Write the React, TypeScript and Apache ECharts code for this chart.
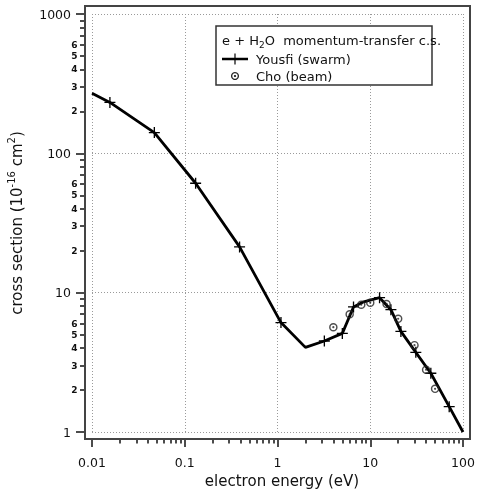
import React, { useEffect, useRef } from "react";
import * as echarts from "echarts";

// Yousfi (swarm) momentum-transfer cross section, energy in eV, cross section in 1e-16 cm^2
const yousfiEnergy = [0.01, 0.0156, 0.047, 0.131, 0.39, 1.09, 2.0, 3.2, 5.0, 6.6, 8.5, 12.6, 16.7, 21.4, 31, 45, 71, 100];
const yousfiXS = [270, 232, 141, 61, 21.3, 6.1, 4.05, 4.5, 5.1, 7.9, 8.6, 9.2, 7.55, 5.27, 3.73, 2.64, 1.52, 1.0];
const yousfiMarked = [false, true, true, true, true, true, false, true, true, true, false, true, true, true, true, true, true, false];

// Cho (beam)
const choEnergy = [4, 6, 8, 10, 15, 20, 30, 40, 50];
const choXS = [5.65, 7.0, 8.2, 8.45, 8.3, 6.5, 4.2, 2.8, 2.04];

// axis ticks
const xDecades = [0.01, 0.1, 1, 10];
const yDecades = [1, 10, 100];
const minorDigits = [2, 3, 4, 5, 6, 7, 8, 9];
const yMinorLabelDigits = [2, 3, 4, 5, 6];

const FONT = "'DejaVu Sans', sans-serif";
const PLUS = "path://M-5,-0.6L5,-0.6L5,0.6L-5,0.6Z M-0.6,-5L0.6,-5L0.6,5L-0.6,5Z";
const CHO =
  "path://M0,-5A5,5,0,1,1,0,5A5,5,0,1,1,0,-5Z M0,-3.3A3.3,3.3,0,1,0,0,3.3A3.3,3.3,0,1,0,0,-3.3Z M0,-1.3A1.3,1.3,0,1,1,0,1.3A1.3,1.3,0,1,1,0,-1.3Z";

const fmt = (v: number) => String(parseFloat(Number(v).toPrecision(4)));

export default function App() {
  const ref = useRef<HTMLDivElement>(null);

  useEffect(() => {
    document.body.style.margin = "0";
    const chart = echarts.init(ref.current!, null, { renderer: "svg" });

    const xMinorTicks: number[] = [];
    xDecades.forEach((d) => minorDigits.forEach((m) => xMinorTicks.push(Math.log10(d * m))));
    const yMinorTicks: number[] = [];
    yDecades.forEach((d) => minorDigits.forEach((m) => yMinorTicks.push(Math.log10(d * m))));
    const yMinorLabels: number[] = [];
    yDecades.forEach((d) => yMinorLabelDigits.forEach((m) => yMinorLabels.push(Math.log10(d * m))));

    const tickLine = { color: "#111", width: 1.5 };
    const grid = { lineStyle: { color: "#9a9a9a", type: [1, 2] as any, width: 1 } };
    const noLine = { show: false, onZero: false };

    chart.setOption({
      animation: false,
      grid: { left: 92, right: 14, top: 14, bottom: 61, containLabel: false, outerBoundsMode: "none" },
      xAxis: [
        {
          type: "log",
          logBase: 10,
          min: 0.01,
          max: 100,
          position: "bottom",
          offset: 7,
          axisLine: noLine,
          axisTick: { show: true, length: 8, lineStyle: tickLine },
          axisLabel: { margin: 17, fontSize: 12.5, fontFamily: FONT, color: "#111", formatter: fmt },
          splitLine: { show: true, ...grid },
          minorTick: { show: false },
          name: "electron energy (eV)",
          nameLocation: "middle",
          nameGap: 33,
          nameTextStyle: { fontSize: 15, fontFamily: FONT, color: "#111", padding: [0, 0, 0, 9] },
        },
        {
          type: "value",
          min: -2,
          max: 2,
          position: "bottom",
          offset: 7,
          axisLine: noLine,
          axisTick: { show: true, length: 4.5, lineStyle: tickLine, customValues: xMinorTicks },
          axisLabel: { show: false },
          splitLine: { show: false },
        },
      ],
      yAxis: [
        {
          type: "log",
          logBase: 10,
          min: 1,
          max: 1000,
          position: "left",
          offset: 7,
          axisLine: noLine,
          axisTick: { show: true, length: 9, lineStyle: tickLine },
          axisLabel: { margin: 14, fontSize: 12.5, fontFamily: FONT, color: "#111", formatter: fmt },
          splitLine: { show: true, ...grid },
          minorTick: { show: false },
          name: "cross section (10{sup|-16} cm{sup|2})",
          nameLocation: "middle",
          nameGap: 42,
          nameRotate: 90,
          nameTextStyle: {
            fontSize: 15,
            fontFamily: FONT,
            color: "#111",
            lineHeight: 22,
            rich: { sup: { fontSize: 10, fontFamily: FONT, color: "#111", verticalAlign: "top", lineHeight: 12 } },
          },
        },
        {
          type: "value",
          min: 0,
          max: 3,
          position: "left",
          offset: 7,
          axisLine: noLine,
          axisTick: { show: true, length: 5, lineStyle: tickLine, customValues: yMinorTicks },
          axisLabel: {
            show: true,
            customValues: yMinorLabels,
            margin: 7.5,
            fontSize: 9,
            fontWeight: "bold",
            fontFamily: FONT,
            color: "#111",
            formatter: (v: number) => {
              const e = Math.floor(v + 1e-9);
              return String(Math.round(Math.pow(10, v - e)));
            },
          },
          splitLine: { show: false },
        },
      ],
      series: [
        {
          name: "Yousfi (swarm)",
          type: "line",
          xAxisIndex: 0,
          yAxisIndex: 0,
          data: yousfiEnergy.map((x, i) => ({
            value: [x, yousfiXS[i]],
            symbol: yousfiMarked[i] ? PLUS : "none",
          })),
          symbol: PLUS,
          symbolSize: 11,
          showAllSymbol: true,
          lineStyle: { color: "#000", width: 2.8 },
          itemStyle: { color: "#000" },
          z: 3,
        },
        {
          name: "Cho (beam)",
          type: "scatter",
          xAxisIndex: 0,
          yAxisIndex: 0,
          data: choEnergy.map((x, i) => [x, choXS[i]]),
          symbol: CHO,
          symbolSize: 8.5,
          itemStyle: { color: "#222" },
          z: 4,
        },
      ],
      graphic: [
        {
          type: "rect",
          shape: { x: 85, y: 6, width: 385, height: 433 },
          style: { fill: "none", stroke: "#444", lineWidth: 2 },
          z: 10,
        },
        {
          type: "rect",
          shape: { x: 216, y: 26, width: 216, height: 59 },
          style: { fill: "#fff", stroke: "#333", lineWidth: 1.5 },
          z: 11,
        },
        {
          type: "text",
          x: 222,
          y: 40,
          style: {
            text: "e + H{sub|2}O  momentum-transfer c.s.",
            font: `13px ${FONT}`,
            fill: "#111",
            verticalAlign: "middle",
            lineHeight: 18,
            rich: { sub: { fontSize: 9, fontFamily: FONT, fill: "#111", verticalAlign: "bottom", lineHeight: 10 } },
          },
          z: 12,
        },
        {
          type: "line",
          shape: { x1: 222, y1: 59, x2: 248, y2: 59 },
          style: { stroke: "#000", lineWidth: 2.5 },
          z: 12,
        },
        {
          type: "line",
          shape: { x1: 235, y1: 53.5, x2: 235, y2: 64.5 },
          style: { stroke: "#000", lineWidth: 1.2 },
          z: 12,
        },
        {
          type: "text",
          x: 256,
          y: 59,
          style: { text: "Yousfi (swarm)", font: `13px ${FONT}`, fill: "#111", verticalAlign: "middle" },
          z: 12,
        },
        {
          type: "circle",
          shape: { cx: 235, cy: 76, r: 3.4 },
          style: { fill: "none", stroke: "#222", lineWidth: 1.3 },
          z: 12,
        },
        {
          type: "circle",
          shape: { cx: 235, cy: 76, r: 1.1 },
          style: { fill: "#222" },
          z: 12,
        },
        {
          type: "text",
          x: 256,
          y: 76,
          style: { text: "Cho (beam)", font: `13px ${FONT}`, fill: "#111", verticalAlign: "middle" },
          z: 12,
        },
      ],
    });

    return () => chart.dispose();
  }, []);

  return <div ref={ref} style={{ position: "fixed", left: 0, top: 0, width: 477, height: 493 }} />;
}
